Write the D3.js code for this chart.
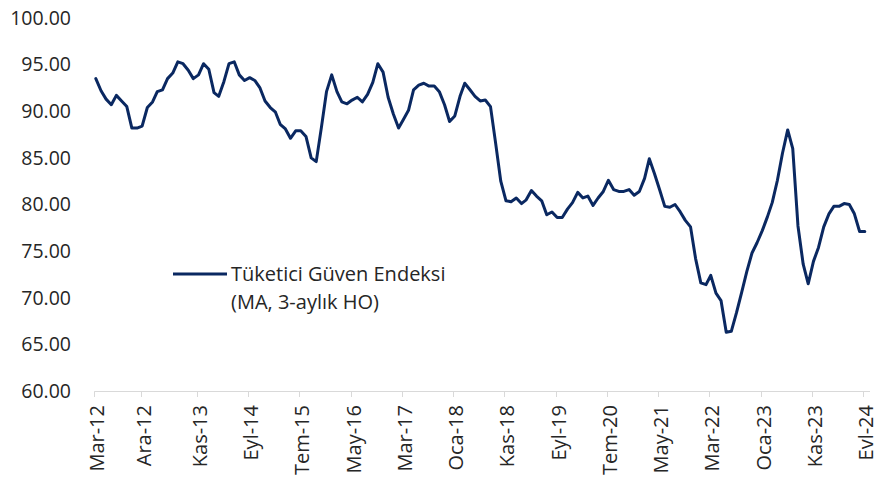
<!DOCTYPE html>
<html lang="tr">
<head>
    <meta charset="UTF-8">
    <title>Tüketici Güven Endeksi</title>
    <script src="https://d3js.org/d3.v7.min.js"></script>
    <style>
        body{
            margin: 0;
            background-color: white;
        }
        svg text{
            font-family: "Open Sans", "Noto Sans", sans-serif;
            fill: #262626;
        }
        path.series{
            fill: none;
            stroke: #0a2861;
            stroke-width: 3px;
            stroke-linejoin: round;
            stroke-linecap: round;
        }
    </style>
</head>
<body>
<svg id="canvas" width="878" height="482"></svg>
<script>
    // monthly series, Mar-12 .. Sep-24
    let startYear = 2012
    let startMonth = 2
    let values = [
        93.5, 92.2, 91.3, 90.7, 91.7, 91.1, 90.5, 88.2, 88.2, 88.4,
        90.4, 91.0, 92.1, 92.3, 93.5, 94.1, 95.3, 95.1, 94.4, 93.5,
        93.9, 95.1, 94.5, 92.0, 91.6, 93.2, 95.1, 95.3, 93.9, 93.3,
        93.6, 93.3, 92.5, 91.1, 90.4, 89.9, 88.6, 88.1, 87.1, 87.9,
        87.9, 87.3, 85.0, 84.6, 88.3, 92.1, 93.9, 92.1, 91.0, 90.8,
        91.2, 91.5, 91.0, 91.8, 93.1, 95.1, 94.2, 91.5, 89.7, 88.2,
        89.1, 90.1, 92.3, 92.8, 93.0, 92.7, 92.7, 92.1, 90.7, 88.9,
        89.5, 91.6, 93.0, 92.3, 91.6, 91.1, 91.2, 90.5, 86.5, 82.5,
        80.4, 80.3, 80.7, 80.1, 80.5, 81.5, 80.9, 80.4, 78.9, 79.2,
        78.6, 78.6, 79.5, 80.2, 81.3, 80.7, 80.9, 79.9, 80.7, 81.4,
        82.6, 81.6, 81.4, 81.4, 81.6, 81.0, 81.4, 82.8, 84.9, 83.3,
        81.6, 79.8, 79.7, 80.0, 79.2, 78.3, 77.6, 74.2, 71.6, 71.4,
        72.4, 70.5, 69.7, 66.3, 66.4, 68.4, 70.6, 72.8, 74.8, 75.9,
        77.2, 78.7, 80.2, 82.6, 85.5, 88.0, 86.0, 77.7, 73.6, 71.5,
        73.9, 75.4, 77.6, 79.0, 79.8, 79.8, 80.1, 80.0, 79.0, 77.1,
        77.1
    ]
    let tickLabels = ["Mar-12", "Ara-12", "Kas-13", "Eyl-14", "Tem-15", "May-16", "Mar-17", "Oca-18",
        "Kas-18", "Eyl-19", "Tem-20", "May-21", "Mar-22", "Oca-23", "Kas-23", "Evl-24"]
    let tickOffsets = [0, 9, 20, 30, 40, 50, 60, 70, 80, 90, 100, 110, 120, 130, 140, 150]
    let yTicks = [60, 65, 70, 75, 80, 85, 90, 95, 100]
    let legendLines = ["Tüketici Güven Endeksi", "(MA, 3-aylık HO)"]

    let svg = d3.select('svg')

    let data = values.map(function (v, i){
        return {date: new Date(startYear, startMonth + i, 10), value: v}
    })
    let tickDates = tickOffsets.map(function (m){
        return new Date(startYear, startMonth + m, 1)
    })

    let x = d3.scaleTime()
        .domain([tickDates[0], tickDates[tickDates.length - 1]])
        .range([94.3, 863.3])
    let y = d3.scaleLinear()
        .domain([60, 100])
        .range([391, 18])

    // y axis labels (no axis line, no gridlines)
    svg.append('g')
        .selectAll('text')
        .data(yTicks)
        .enter()
        .append('text')
        .attr("x", 71)
        .attr("y", function (d){ return y(d) })
        .attr("dy", "0.35em")
        .attr("text-anchor", "end")
        .style("font-size", "19.5px")
        .text(function (d){ return d3.format(".2f")(d) })

    // x axis
    let xAxis = svg.append('g')
    xAxis.append('line')
        .attr("x1", x(tickDates[0]))
        .attr("x2", 870)
        .attr("y1", 391.5)
        .attr("y2", 391.5)
        .attr("stroke", "#d9d9d9")
        .attr("stroke-width", 1)
    xAxis.selectAll('line.tick')
        .data(tickDates)
        .enter()
        .append('line')
        .attr("class", "tick")
        .attr("x1", function (d){ return Math.round(x(d)) + 0.5 })
        .attr("x2", function (d){ return Math.round(x(d)) + 0.5 })
        .attr("y1", 391.5)
        .attr("y2", 397)
        .attr("stroke", "#d9d9d9")
        .attr("stroke-width", 1)
    xAxis.selectAll('text')
        .data(tickDates)
        .enter()
        .append('text')
        .attr("transform", function (d){
            return "translate(" + (x(d) + 3) + ",405) rotate(-90)"
        })
        .attr("dy", "0.35em")
        .attr("text-anchor", "end")
        .style("font-size", "20px")
        .text(function (d, i){ return tickLabels[i] })

    // series
    let lineGen = d3.line()
        .x(function (d){ return x(d.date) })
        .y(function (d){ return y(d.value) })
    svg.append('path')
        .datum(data)
        .attr("class", "series")
        .attr("d", lineGen)

    // legend
    let legend = svg.append('g')
    legend.append('line')
        .attr("x1", 173)
        .attr("x2", 227)
        .attr("y1", 274)
        .attr("y2", 274)
        .attr("stroke", "#0a2861")
        .attr("stroke-width", 3)
    legend.selectAll('text')
        .data(legendLines)
        .enter()
        .append('text')
        .attr("x", 231)
        .attr("y", function (d, i){ return 274 + i * 28 })
        .attr("dy", "0.35em")
        .style("font-size", "20px")
        .text(function (d){ return d })
</script>
</body>
</html>
